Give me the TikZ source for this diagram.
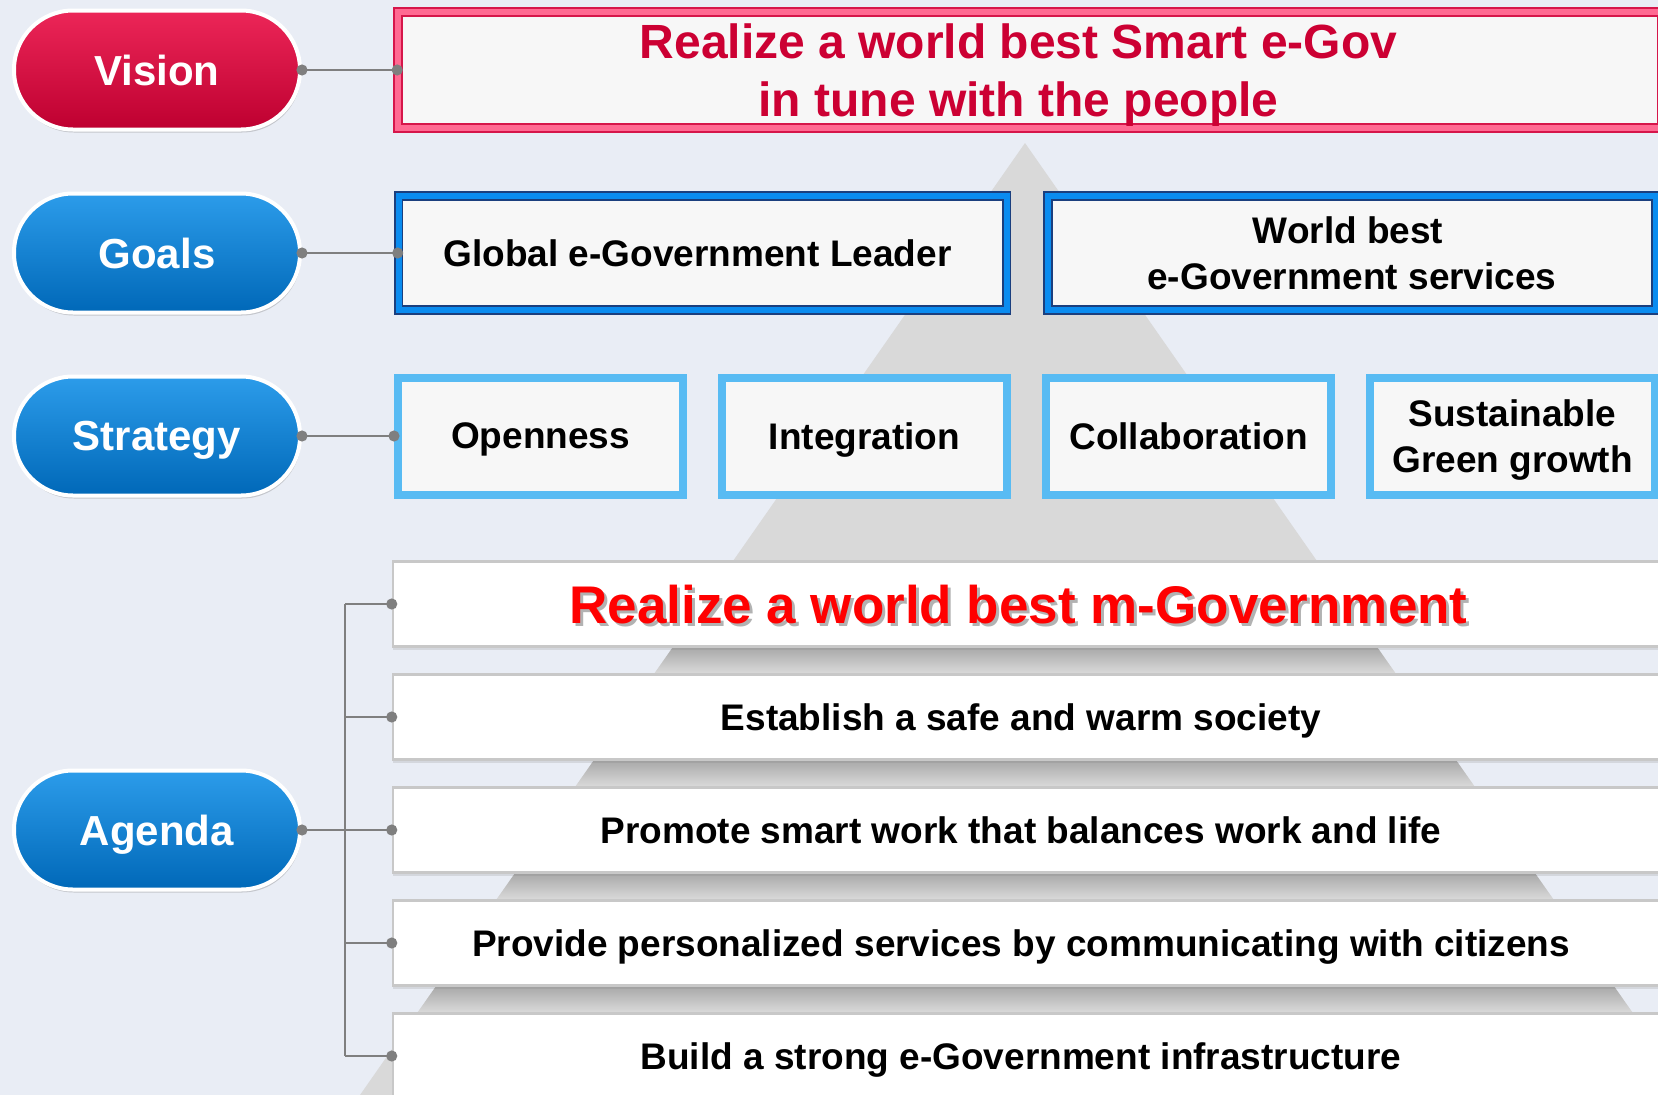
\documentclass[tikz,border=0pt]{standalone}
\usepackage{fontspec}
\setmainfont{Liberation Sans}
\usetikzlibrary{arrows.meta,shadows}
\definecolor{pagebg}{RGB}{233,237,245}
\definecolor{pyramid}{RGB}{217,217,217}
\definecolor{pyramiddark}{RGB}{168,168,168}
\definecolor{crimson}{RGB}{204,0,51}
\definecolor{visionedge}{RGB}{214,22,74}
\definecolor{visionpink}{RGB}{255,106,146}
\definecolor{goalnavy}{RGB}{27,63,126}
\definecolor{goalblue}{RGB}{10,140,240}
\definecolor{stratblue}{RGB}{88,187,243}
\definecolor{boxfill}{RGB}{247,247,247}
\definecolor{agendagray}{RGB}{200,200,200}
\definecolor{connector}{RGB}{127,127,127}
\definecolor{redtop}{RGB}{236,38,88}
\definecolor{redbottom}{RGB}{190,0,48}
\definecolor{bluetop}{RGB}{44,156,234}
\definecolor{bluebottom}{RGB}{0,104,184}
\tikzstyle{link} = [draw=connector,line width=2.2pt]
\tikzstyle{conn} = [link,{Circle[length=11pt]}-{Circle[length=11pt]},shorten <=-5.5pt,shorten >=-5.5pt]
\tikzstyle{branch} = [link,-{Circle[length=11pt]},shorten >=-5.5pt]
\tikzstyle{band} = [top color=pyramiddark,bottom color=pyramid]
\pgfdeclarelayer{bg}
\pgfsetlayers{bg,main}
\tikzset{pill/.style={rounded corners=59pt,draw=white,line width=4pt,minimum width=286pt,minimum height=119pt,text=white,text depth=0pt,font=\fontsize{42}{50}\selectfont\bfseries,drop shadow={opacity=.35,shadow xshift=1pt,shadow yshift=-3pt}},
redpill/.style={pill,top color=redtop,bottom color=redbottom},
bluepill/.style={pill,top color=bluetop,bottom color=bluebottom},
visionbox/.style={draw=visionedge,double=visionpink,double distance=6pt,line width=1.6pt,fill=boxfill,minimum width=1264pt,minimum height=116pt,align=center,text depth=0pt,text=crimson,font=\fontsize{48}{58}\selectfont\bfseries,drop shadow={opacity=.3}},
goalbox/.style={draw=goalnavy,double=goalblue,double distance=6pt,line width=1.6pt,fill=boxfill,minimum width=608pt,minimum height=114pt,align=center,text depth=0pt,font=\fontsize{37}{46}\selectfont\bfseries,drop shadow={opacity=.3}},
stratbox/.style={draw=stratblue,line width=8pt,fill=boxfill,minimum width=285pt,minimum height=117pt,align=center,text depth=0pt,font=\fontsize{37}{46}\selectfont\bfseries,drop shadow={opacity=.3}},
agendabox/.style={draw=agendagray,line width=2.5pt,fill=white,minimum width=1268pt,minimum height=85pt,text depth=0pt,font=\fontsize{37}{46}\selectfont\bfseries,execute at end node=\hspace*{12pt},drop shadow={opacity=.2,shadow xshift=0pt,shadow yshift=-3pt}}}
\newcommand{\dropped}[1]{\makebox[0pt][l]{\hspace{3pt}\raisebox{-3pt}{\textcolor{black!30}{#1}}}#1}

\begin{document}
\begin{tikzpicture}[x=1pt,y=-1pt,node distance=183pt]
    \useasboundingbox (0,0) rectangle (1658,1095);
    \begin{pgfonlayer}{bg} % background layer
    \fill[pagebg] (0,0) rectangle (1658,1095);
    \fill[pyramid] (1025,143) -- (360,1095) -- (1690,1095) -- cycle;
    \begin{scope}
    \clip (1025,143) -- (360,1095) -- (1690,1095) -- cycle;
    \shade[band] (0,647) rectangle (1658,673);
    \shade[band] (0,760) rectangle (1658,786);
    \shade[band] (0,873) rectangle (1658,899);
    \shade[band] (0,986) rectangle (1658,1012);
    \end{scope}
    \end{pgfonlayer}

    \node [redpill] (vision) at (157,70) {Vision};
    \node [bluepill, below of = vision] (goals) {Goals};
    \node [bluepill, below of = goals] (strategy) {Strategy};
    \node [bluepill, below of = strategy, yshift = -211pt] (agenda) {Agenda};

    \node [visionbox] (worldbest) at (1030,70) {Realize a world best Smart e-Gov\hspace*{23pt}\\in tune with the people\hspace*{23pt}};

    \node [goalbox] (leader) at (702.5,253) {Global e-Government Leader\hspace*{10pt}};
    \node [goalbox, right of = leader, xshift = 466.5pt] (services) {World best\hspace*{8pt}\\e-Government services};

    \node [stratbox] (openness) at (540.5,436) {Openness};
    \node [stratbox, right of = openness, xshift = 141pt] (integration) {Integration};
    \node [stratbox, right of = integration, xshift = 141pt] (collaboration) {Collaboration};
    \node [stratbox, right of = collaboration, xshift = 141pt] (green) {Sustainable\\Green growth};

    \node [agendabox, text=red, font=\fontsize{53}{60}\selectfont\bfseries] (mgov) at (1027,604) {\dropped{Realize a world best m-Government}\hspace*{5pt}};
    \node [agendabox, below of = mgov, yshift = 70pt] (safe) {Establish a safe and warm society};
    \node [agendabox, below of = safe, yshift = 70pt] (smartwork) {Promote smart work that balances work and life};
    \node [agendabox, below of = smartwork, yshift = 70pt] (citizens) {Provide personalized services by communicating with citizens};
    \node [agendabox, below of = citizens, yshift = 70pt] (infra) {Build a strong e-Government infrastructure};

    \draw[conn] (vision.east) -- (worldbest.west);
    \draw[conn] (goals.east) -- (leader.west);
    \draw[conn] (strategy.east) -- (openness.west);
    \draw[link,{Circle[length=11pt]}-,shorten <=-5.5pt] (agenda.east) -- ++(43,0) coordinate (fork);
    \draw[link] (fork |- mgov.west) -- (fork |- infra.west);
    \draw[branch] (fork |- mgov.west) -- (mgov.west);
    \draw[branch] (fork |- safe.west) -- (safe.west);
    \draw[branch] (fork |- smartwork.west) -- (smartwork.west);
    \draw[branch] (fork |- citizens.west) -- (citizens.west);
    \draw[branch] (fork |- infra.west) -- (infra.west);
\end{tikzpicture}
\end{document}
